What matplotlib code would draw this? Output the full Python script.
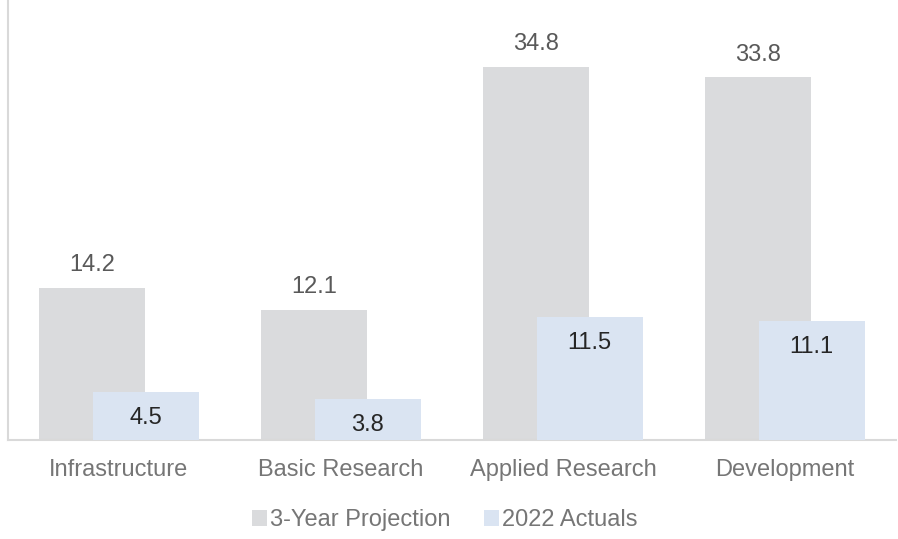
import matplotlib.pyplot as plt
import numpy as np

plt.rcParams['font.family'] = ['Liberation Sans', 'DejaVu Sans']

categories = ["Infrastructure", "Basic Research", "Applied Research", "Development"]
projection = [14.2, 12.1, 34.8, 33.8]
actuals = [4.5, 3.8, 11.5, 11.1]
series_names = ["3-Year Projection", "2022 Actuals"]

gray = "#DADBDD"
blue = "#DAE4F2"

fig = plt.figure(figsize=(8.98, 5.39), dpi=100)
ax = fig.add_axes([8 / 898, 99 / 539, 888 / 898, 440 / 539])

x = np.arange(len(categories))
w = 0.477
off = 0.12
b1 = ax.bar(x - off, projection, w, color=gray, label=series_names[0], zorder=2)
b2 = ax.bar(x + off, actuals, w, color=blue, label=series_names[1], zorder=3)

# labels: projection above bars, actuals inside the top
for xi, v in zip(x - off, projection):
    ax.annotate(f"{v}", (xi, v), xytext=(0, 12), textcoords="offset points",
                ha="center", va="baseline", fontsize=17, color="#595959")
for xi, v in zip(x + off, actuals):
    ax.annotate(f"{v}", (xi, v), xytext=(0, -23), textcoords="offset points",
                ha="center", va="baseline", fontsize=17, color="#262626")

ax.set_xlim(-0.5, 3.5)
ax.set_ylim(0, 41.0)
ax.set_xticks(x)
ax.set_xticklabels(categories, fontsize=17, color="#767676")
ax.tick_params(axis="x", length=0, pad=14)
ax.set_yticks([])
for s in ["top", "right"]:
    ax.spines[s].set_visible(False)
for s in ["left", "bottom"]:
    ax.spines[s].set_color("#D9D9D9")
    ax.spines[s].set_linewidth(1.5)

leg = fig.legend(handles=[b1, b2], loc="center", bbox_to_anchor=(0.495, 1 - 520 / 539),
                 ncol=2, frameon=False, fontsize=17, handlelength=0.65, handleheight=0.65,
                 handletextpad=0.12, columnspacing=1.4, labelcolor="#767676")

fig.savefig("out.png", dpi=100)
